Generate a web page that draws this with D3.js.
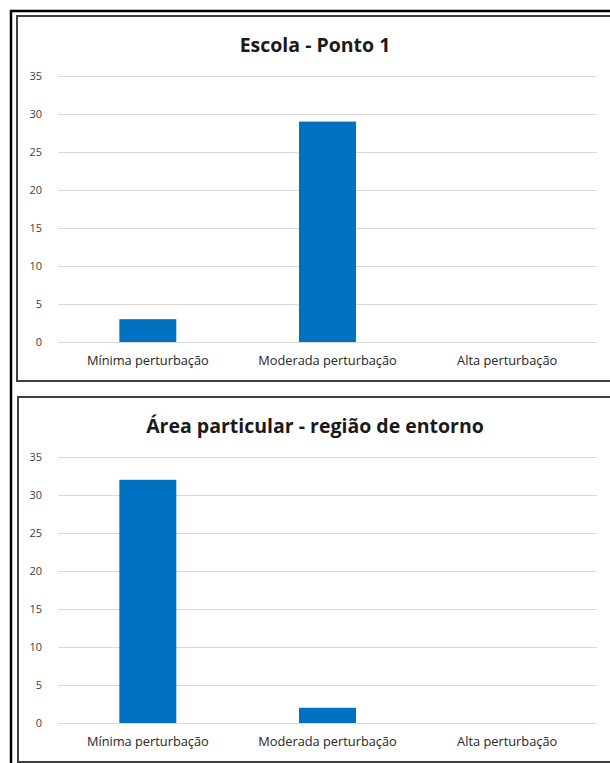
<!DOCTYPE html>
<html>
<head>
<meta charset="utf-8">
<script src="https://cdn.jsdelivr.net/npm/d3@7"></script>
<style>
  body { margin: 0; background: #fff; }
  svg { display: block; }
</style>
</head>
<body>
<svg id="vis" width="610" height="763"></svg>
<script>
// chart values
var categories = ["Mínima perturbação", "Moderada perturbação", "Alta perturbação"];
var escolaValues = [3, 29, 0];
var entornoValues = [32, 2, 0];
var yTicks = [0, 5, 10, 15, 20, 25, 30, 35];
var titles = ["Escola - Ponto 1", "Área particular - região de entorno"];

var svg = d3.select("#vis");

// outer frame of the figure (runs off the right and bottom edges)
svg.append("rect")
   .attr("x", 11).attr("y", 11)
   .attr("width", 640).attr("height", 800)
   .attr("fill", "none")
   .attr("stroke", "#000")
   .attr("stroke-width", 2.5);

function draw_chart(top, boxLeft, boxBottom, title, values) {
    var g = svg.append("g");

    g.append("rect")
     .attr("x", boxLeft).attr("y", top)
     .attr("width", 640).attr("height", boxBottom - top)
     .attr("fill", "#fff")
     .attr("stroke", "#404040")
     .attr("stroke-width", 2);

    var x = d3.scaleBand()
              .domain(categories)
              .range([58, 597])
              .paddingInner(0.683)
              .paddingOuter(0.683 / 2);

    var y0 = top + 326;
    var y = d3.scaleLinear()
              .domain([0, 35])
              .range([y0, top + 60]);

    g.append("text")
     .attr("x", 315).attr("y", top + 36)
     .attr("text-anchor", "middle")
     .attr("font-family", "Open Sans, sans-serif")
     .attr("font-weight", "bold")
     .attr("font-size", 19.5)
     .attr("fill", "#1a1a1a")
     .text(title);

    var yAxis = g.append("g")
                 .attr("transform", "translate(58,0)")
                 .call(d3.axisLeft(y).tickValues(yTicks).tickSize(-539).tickPadding(16));
    yAxis.select(".domain").remove();
    yAxis.selectAll("line").attr("stroke", "#d9d9d9");
    yAxis.selectAll("text")
         .attr("font-family", "Open Sans, sans-serif")
         .attr("font-size", 11)
         .attr("fill", "#404040");

    g.selectAll("rect.bar")
     .data(values)
     .enter()
     .append("rect")
     .attr("class", "bar")
     .attr("x", function(d, i) { return x(categories[i]); })
     .attr("width", x.bandwidth())
     .attr("y", function(d) { return y(d); })
     .attr("height", function(d) { return y0 - y(d); })
     .attr("fill", "#0070c0");

    var xAxis = g.append("g")
                 .attr("transform", "translate(0," + y0 + ")")
                 .call(d3.axisBottom(x).tickSize(0).tickPadding(14));
    xAxis.select(".domain").remove();
    xAxis.selectAll("text")
         .attr("font-family", "Open Sans, sans-serif")
         .attr("font-size", 12.8)
         .attr("fill", "#262626");
}

draw_chart(16, 17, 381, titles[0], escolaValues);
draw_chart(397, 18, 762, titles[1], entornoValues);
</script>
</body>
</html>
